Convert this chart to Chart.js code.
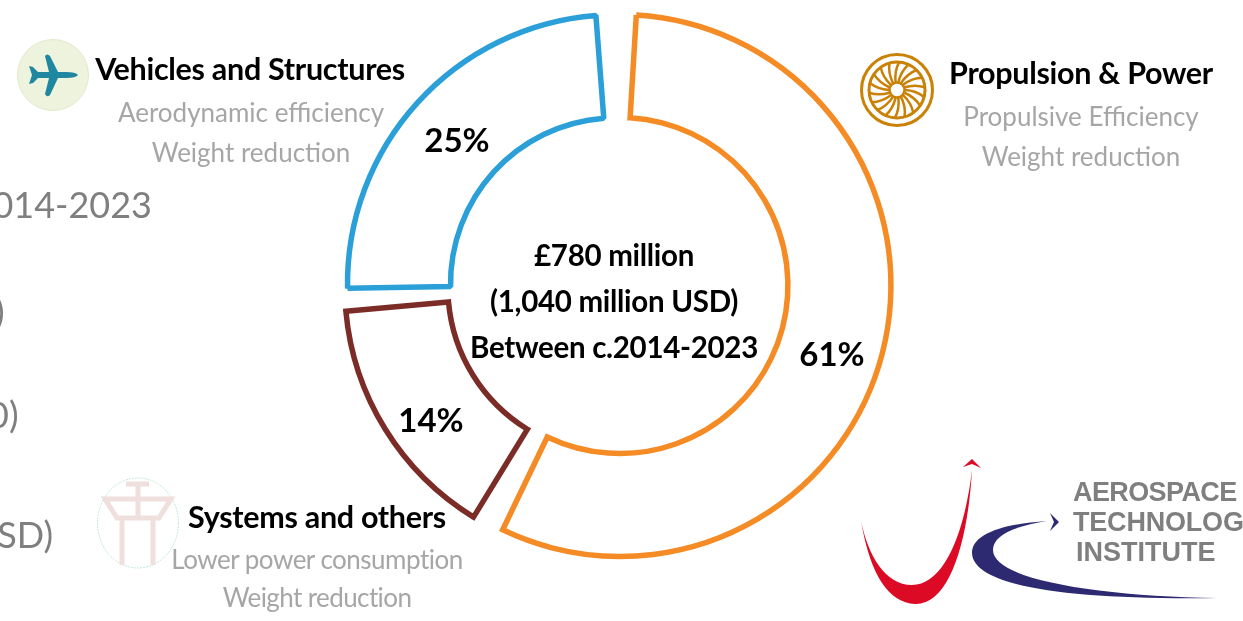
<!DOCTYPE html>
<html>
<head>
<meta charset="utf-8">
<script src="https://cdn.jsdelivr.net/npm/chart.js@4/dist/chart.umd.min.js"></script>
<style>
html, body { margin: 0; padding: 0; background: #fff; }
#page { position: relative; width: 1243px; height: 621px; overflow: hidden; font-family: Lato, sans-serif; }
#myChart, #art { position: absolute; left: 0; top: 0; }
.t { position: absolute; white-space: nowrap; transform: translate(-50%, -50%); line-height: 1; }
.head { font-weight: 700; font-size: 30.5px; color: #000; letter-spacing: -0.3px; }
.sub { font-size: 26px; color: #a6a6a6; }
.mid { font-weight: 700; font-size: 29.5px; color: #000; letter-spacing: -0.3px; }
.pct { font-weight: 700; font-size: 33px; color: #000; }
.cut { position: absolute; white-space: nowrap; font-size: 36px; color: #7f7f7f; line-height: 1; transform: translateY(-50%); }
.logo { position: absolute; left: 1073px; white-space: nowrap; font-family: "Liberation Sans", sans-serif; font-weight: 700; font-size: 27px; color: #7f7f7f; line-height: 1; transform: translateY(-50%); }
</style>
</head>
<body>
<div id="page">
    <canvas id="myChart" width="1243" height="621"></canvas>
    <svg id="art" width="1243" height="621" viewBox="0 0 1243 621">
        <!-- plane -->
        <circle cx="53" cy="75" r="35.5" fill="#eef3dd" stroke="#e1e9c8"/>
        <path d="M78,75 Q76,72 66,72 L58,72 L50,56 Q47,53 45,56 L49,72 L38,72 L33,67 L29,66 L32,75 L29,84 L33,83 L38,78 L49,78 L45,94 Q47,98 50,95 L58,78 L66,78 Q76,78 78,75 Z" fill="#1f87a0"/>
        <!-- tower -->
        <ellipse cx="138" cy="523" rx="40.5" ry="45" fill="#fff" stroke="#bfe8d8" stroke-dasharray="2 1"/>
        <g fill="none" stroke="#efe0dd" stroke-width="5">
            <path d="M126,484 H149 M138,484 V517"/>
            <path d="M105,499 H171 L159,518 H117 Z"/>
            <path d="M122,518 V565 M153,518 V565"/>
        </g>
        <!-- fan -->
        <g id="fan" fill="none" stroke="#c98106">
            <circle cx="897" cy="90" r="35.5" stroke-width="3"/>
            <circle cx="897" cy="90" r="28" stroke-width="3"/>
            <circle cx="897" cy="90" r="7.5" stroke-width="2.5"/>
        </g>
        <!-- institute logo -->
        <path d="M861,521 Q875,602 915,604 C950,605 968,540 972,470 C965,530 945,585 912,585 C885,585 868,555 861,521 Z" fill="#dc0a24"/>
        <path d="M963,467 L972,459 L981,468 L972,464 Z" fill="#dc0a24"/>
        <path d="M1047,521 C1000,524 972,535 972,553 C973,585 1060,600 1217,598 C1100,596 993,580 993,550 C993,535 1015,526 1047,521 Z" fill="#2e2a72"/>
        <path d="M1050,513 L1059,522 L1050,531 L1054,522 Z" fill="#2e2a72"/>
    </svg>

    <div class="cut" style="right:1091px;top:204px">2014-2023</div>
    <div class="cut" style="left:-5px;top:311px">)</div>
    <div class="cut" style="left:-12px;top:414px">0)</div>
    <div class="cut" style="right:1190px;top:534px">USD)</div>

    <div class="t head" style="left:250px;top:68px">Vehicles and Structures</div>
    <div class="t sub" style="left:251px;top:112px">Aerodynamic efficiency</div>
    <div class="t sub" style="left:251px;top:152px">Weight reduction</div>

    <div class="t head" style="left:1081px;top:72px">Propulsion &amp; Power</div>
    <div class="t sub" style="left:1081px;top:116px">Propulsive Efficiency</div>
    <div class="t sub" style="left:1081px;top:156px">Weight reduction</div>

    <div class="t head" style="left:317px;top:516px">Systems and others</div>
    <div class="t sub" style="left:317px;top:559px;letter-spacing:-0.5px">Lower power consumption</div>
    <div class="t sub" style="left:317px;top:597px;letter-spacing:-0.6px">Weight reduction</div>

    <div class="t mid" style="left:614px;top:255px">£780 million</div>
    <div class="t mid" style="left:614px;top:301px">(1,040 million USD)</div>
    <div class="t mid" style="left:614px;top:347px">Between c.2014-2023</div>

    <div class="t pct" id="pct0" style="left:832px;top:353px"></div>
    <div class="t pct" id="pct1" style="left:431px;top:419px"></div>
    <div class="t pct" id="pct2" style="left:457px;top:139px"></div>

    <div class="logo" style="top:492px;letter-spacing:-0.6px">AEROSPACE</div>
    <div class="logo" style="top:522px;letter-spacing:-0.2px">TECHNOLOGY</div>
    <div class="logo" style="top:552px;left:1076px">INSTITUTE</div>
</div>
<script>
'use strict';
let categories = ['Propulsion & Power', 'Systems and others', 'Vehicles and Structures'];
let shares = [61, 14, 25];
// the slices in the picture are not drawn to their printed share, so these are the sweeps read off it
let sliceDegrees = [202.3, 53.4, 86.6];
let gapDegrees = [5.8, 4.1, 7.8];
let sliceColors = ['#f58b25', '#7b2c26', '#2a9fd8'];
let sliceOffsets = [8, 16, 8];
let sliceJoins = ['miter', 'miter', 'bevel'];

let labels = [];
let values = [];
let borders = [];
let offsets = [];
let joins = [];
for (let i = 0; i < categories.length; i++) {
    labels.push(categories[i], '');
    values.push(sliceDegrees[i], gapDegrees[i]);
    borders.push(sliceColors[i], 'rgba(0,0,0,0)');
    offsets.push(sliceOffsets[i], 0);
    joins.push(sliceJoins[i], 'miter');
    document.getElementById('pct' + i).textContent = shares[i] + '%';
}

// fan blades
let fan = document.getElementById('fan');
for (let i = 0; i < 18; i++) {
    let a = i * Math.PI / 9;
    let p = document.createElementNS('http://www.w3.org/2000/svg', 'path');
    p.setAttribute('d', 'M' + (897 + 8 * Math.cos(a)) + ',' + (90 + 8 * Math.sin(a)) +
        ' Q' + (897 + 19 * Math.cos(a + 0.03)) + ',' + (90 + 19 * Math.sin(a + 0.03)) +
        ' ' + (897 + 28 * Math.cos(a + 0.25)) + ',' + (90 + 28 * Math.sin(a + 0.25)));
    p.setAttribute('stroke-width', '2.5');
    fan.appendChild(p);
}

let ctx = document.getElementById('myChart').getContext('2d');
let chart = new Chart(ctx, {
    type: 'doughnut',
    data: {
        labels: labels,
        datasets: [{
            data: values,
            backgroundColor: 'rgba(255,255,255,0)',
            borderColor: borders,
            borderWidth: 5.5,
            borderJoinStyle: joins,
            offset: offsets,
            radius: 269,
            hoverOffset: 0
        }]
    },
    options: {
        responsive: false,
        animation: false,
        rotation: 3.4,
        cutout: '61.7%',
        layout: { padding: { right: 7, bottom: 51 } },
        plugins: { legend: { display: false }, tooltip: { enabled: false } }
    }
});
</script>
</body>
</html>
